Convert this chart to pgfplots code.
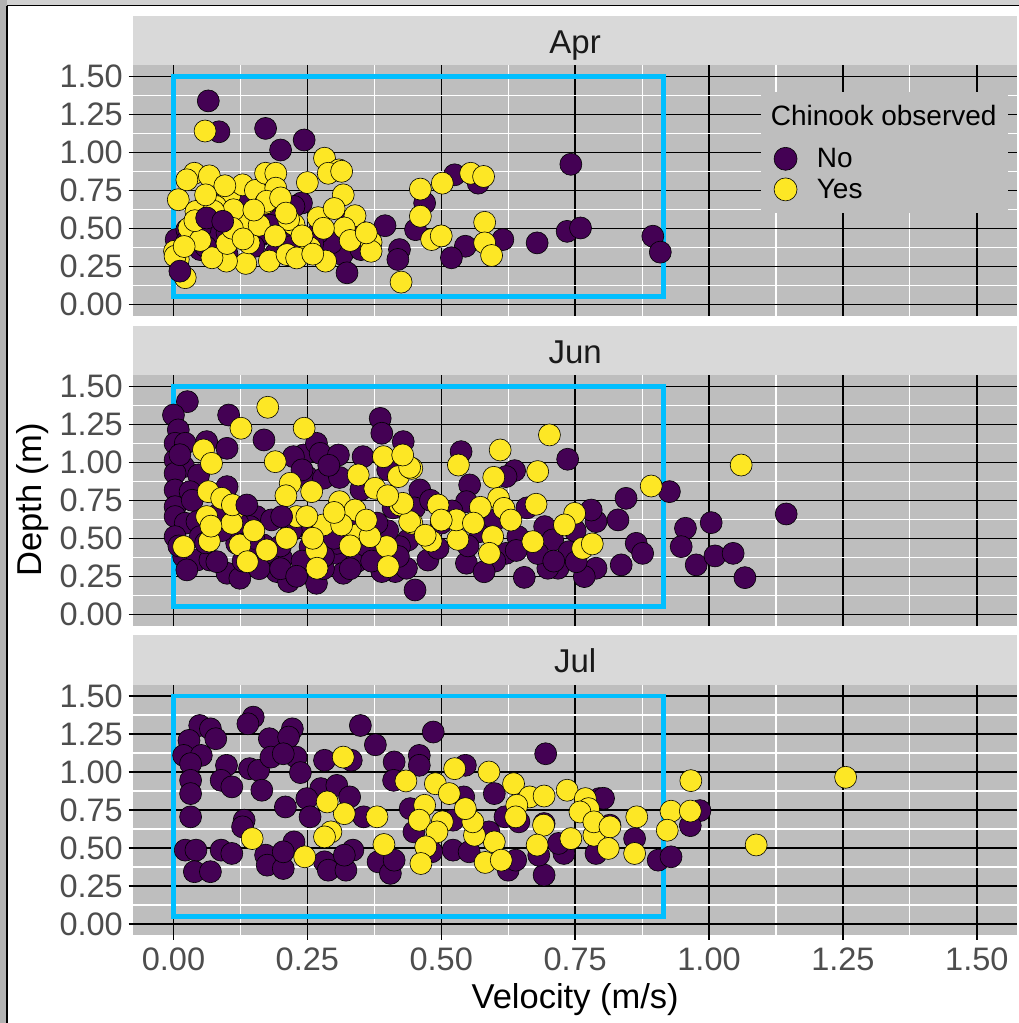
\documentclass[border=0pt]{standalone}
\usepackage{fontspec}
\setmainfont{Liberation Sans}
\usepackage{pgfplots}
\pgfplotsset{compat=1.18}
\definecolor{panelbg}{HTML}{BEBEBE}
\definecolor{stripbg}{HTML}{D9D9D9}
\definecolor{nocol}{HTML}{440154}
\definecolor{yescol}{HTML}{FDE725}
\definecolor{boxcol}{HTML}{00BFFF}
\definecolor{ticktxt}{HTML}{4D4D4D}
\definecolor{striptxt}{HTML}{1A1A1A}

\pgfplotsset{
  panel/.style={
    scale only axis, width=883.7pt, height=250.8pt,
    xmin=-0.075, xmax=1.575, ymin=-0.075, ymax=1.575,
    axis background/.style={fill=panelbg},
    axis line style={draw=none},
    xtick={0,0.25,...,1.5}, ytick={0,0.25,...,1.5},
    minor xtick={0.125,0.375,...,1.4}, minor ytick={0.125,0.375,...,1.4},
    grid=both,
    major grid style={black, line width=1.5pt},
    minor grid style={white, line width=1.2pt},
    tick align=outside, tick pos=left,
    major tick length=4.6pt, minor tick length=0pt,
    tick style={black, line width=1.4pt},
    ticklabel style={font=\fontsize{32.5}{32.5}\selectfont, text=ticktxt},
    yticklabel style={inner sep=0pt, xshift=-5.7pt},
    xticklabel style={inner sep=0pt, yshift=-8pt},
    yticklabel={\pgfmathprintnumber[fixed,fixed zerofill,precision=2,assume math mode=true]{\tick}},
    xticklabel={\pgfmathprintnumber[fixed,fixed zerofill,precision=2,assume math mode=true]{\tick}},
  },
  nopt/.style={only marks, mark=*, mark size=11pt, mark options={fill=nocol, draw=black, line width=0.6pt}},
  yespt/.style={only marks, mark=*, mark size=11pt, mark options={fill=yescol, draw=black, line width=0.6pt}},
  cyanbox/.style={boxcol, line width=4.5pt, line join=miter, mark=none, forget plot},
}

\begin{document}
\begin{tikzpicture}[x=1pt,y=1pt]
\useasboundingbox (0,0) rectangle (1019,1023);
\fill[white] (0,0) rectangle (1019,1023);
% screenshot frame
\fill[black!18] (0,1017.5) rectangle (1019,1023);
\fill[black!30] (0,0) rectangle (6.5,1023);
\draw[black, line width=1.6pt] (6.5,1017.3) -- (1019,1017.3);
\draw[black, line width=2pt] (7.3,0) -- (7.3,1017.3);

% strips
\fill[stripbg] (133.3,958.1) rectangle (1017,1007);
\fill[stripbg] (133.3,648.1) rectangle (1017,697);
\fill[stripbg] (133.3,338.4) rectangle (1017,387.5);
\node[anchor=base, text=striptxt, font=\fontsize{33}{33}\selectfont] at (575.1,969.7) {Apr};
\node[anchor=base, text=striptxt, font=\fontsize{33}{33}\selectfont] at (575.1,659.7) {Jun};
\node[anchor=base, text=striptxt, font=\fontsize{33}{33}\selectfont] at (575.1,350.2) {Jul};

% ---------- Apr ----------
\begin{axis}[panel, at={(133.3pt,707.3pt)}, anchor=south west,
  xmajorticks=false, xticklabels={},
  legend style={at={(0.7245,0.6734)}, anchor=north west, draw=none, fill=none,
    inner sep=0pt, row sep=7pt, font=\fontsize{28}{28}\selectfont,
    nodes={inner sep=0pt},
    /tikz/every odd column/.append style={column sep=19.5pt}},
  legend cell align=left]
\addplot[cyanbox] coordinates {(0.4575,0.05) (0.915,0.05) (0.915,1.5) (0,1.5) (0,0.05) (0.4575,0.05)};
\addplot[nopt, legend image code/.code={\filldraw[fill=nocol, draw=black, line width=0.6pt] (0pt,0pt) circle (11.5pt);}] coordinates {
(0.065,1.338) (0.085,1.135) (0.172,1.157) (0.2,1.015) (0.244,1.081) (0.742,0.921)
(0.525,0.852) (0.569,0.797) (0.469,0.666) (0.239,0.666) (0.139,0.72) (0.179,0.6)
(0.025,0.448) (0.079,0.458) (0.165,0.458) (0.212,0.415) (0.395,0.517) (0.452,0.491)
(0.499,0.448) (0.545,0.382) (0.615,0.426) (0.679,0.404) (0.735,0.48) (0.76,0.502)
(0.895,0.448) (0.909,0.343) (0.519,0.306) (0.422,0.36) (0.419,0.295) (0.315,0.328)
(0.324,0.207) (0.295,0.404) (0.005,0.426) (0.225,0.644) (0.025,0.491) (0.025,0.414)
(0.168,0.469) (0.211,0.491) (0.214,0.393) (0.05,0.36) (0.143,0.689) (0.342,0.5)
(0.1,0.33) (0.177,0.59) (0.12,0.5) (0.27,0.47) (0.06,0.38) (0.19,0.33) (0.35,0.36)
(0.05,0.5) (0.15,0.38) (0.1,0.47) (0.26,0.4) (0.33,0.55) (0.18,0.52) (0.22,0.38)
};
\addlegendentry{No}
\addplot[yespt, legend image code/.code={\filldraw[fill=yescol, draw=black, line width=0.6pt] (0pt,0pt) circle (11.5pt);}] coordinates {
(0.059,1.14) (0.282,0.961) (0.309,0.884) (0.289,0.862) (0.039,0.862) (0.025,0.819)
(0.067,0.845) (0.099,0.764) (0.105,0.72) (0.129,0.786) (0.153,0.749) (0.172,0.862)
(0.191,0.862) (0.191,0.764) (0.172,0.666) (0.25,0.801) (0.317,0.72) (0.009,0.688)
(0.461,0.758) (0.502,0.797) (0.555,0.862) (0.579,0.841) (0.461,0.579) (0.482,0.426)
(0.581,0.539) (0.581,0.404) (0.594,0.321) (0.339,0.583) (0.319,0.502) (0.369,0.408)
(0.369,0.349) (0.284,0.284) (0.255,0.371) (0.225,0.524) (0.215,0.557) (0.179,0.284)
(0.135,0.269) (0.099,0.284) (0.072,0.306) (0.141,0.404) (0.132,0.546) (0.029,0.502)
(0.042,0.611) (0.079,0.644) (0.002,0.349) (0.022,0.175) (0.425,0.146) (0.009,0.295)
(0.112,0.622) (0.212,0.327) (0.23,0.305) (0.096,0.78) (0.174,0.678) (0.075,0.612)
(0.314,0.875) (0.003,0.316) (0.16,0.52) (0.19,0.45) (0.05,0.42) (0.27,0.57) (0.1,0.4)
(0.04,0.55) (0.11,0.5) (0.15,0.62) (0.2,0.7) (0.24,0.45) (0.28,0.5) (0.3,0.63)
(0.06,0.72) (0.13,0.43) (0.21,0.6) (0.02,0.38) (0.33,0.42) (0.26,0.33) (0.36,0.47)
(0.5,0.45)
};
\addlegendentry{Yes}
\addplot[nopt, forget plot] coordinates {(0.012,0.218) (0.062,0.568) (0.092,0.546)};
\fill[panelbg] (axis description cs:0.7103,0.4095) rectangle (axis description cs:0.9898,0.8931);
\node[anchor=base west, inner sep=0pt, font=\fontsize{28}{28}\selectfont, text=black]
  at (axis description cs:0.7212,0.7564) {Chinook observed};
\end{axis}

% ---------- Jun ----------
\begin{axis}[panel, at={(133.3pt,397.3pt)}, anchor=south west,
  xmajorticks=false, xticklabels={}]
\addplot[cyanbox] coordinates {(0.4575,0.05) (0.915,0.05) (0.915,1.5) (0,1.5) (0,0.05) (0.4575,0.05)};
\addplot[nopt] coordinates {
(0.026,1.399) (0.0,1.311) (0.103,1.311) (0.169,1.147) (0.009,1.213) (0.003,1.125)
(0.022,1.125) (0.062,1.136) (0.1,1.092) (0.003,1.015) (0.019,0.971) (0.003,0.928)
(0.047,0.917) (0.003,0.818) (0.031,0.807) (0.1,0.84) (0.003,0.708) (0.003,0.643)
(0.022,0.599) (0.044,0.61) (0.003,0.511) (0.019,0.379) (0.044,0.357) (0.025,0.292)
(0.068,0.357) (0.1,0.27) (0.124,0.237) (0.155,0.643) (0.183,0.621)
(0.168,0.456) (0.202,0.368) (0.177,0.357) (0.193,0.281) (0.215,0.215) (0.243,1.048)
(0.267,1.125) (0.274,1.059) (0.308,1.048) (0.224,1.037) (0.249,0.906) (0.28,0.895)
(0.267,0.204) (0.305,0.401) (0.305,0.467) (0.342,0.346) (0.317,0.27) (0.386,1.289)
(0.389,1.191) (0.354,1.037) (0.429,1.136) (0.46,0.818) (0.438,0.489) (0.451,0.16)
(0.414,0.281) (0.389,0.281) (0.23,0.577) (0.255,0.445) (0.143,0.577) (0.155,0.401)
(0.081,0.346) (0.118,0.467) (0.05,0.511) (0.305,0.643)
(0.537,1.07) (0.736,1.02) (0.637,0.945) (0.621,0.906) (0.553,0.851) (0.547,0.741)
(0.845,0.763) (0.926,0.807) (0.83,0.621) (0.789,0.61) (0.78,0.686) (0.693,0.577)
(0.864,0.467) (0.876,0.401) (0.836,0.325) (0.789,0.303) (0.767,0.248) (0.718,0.303)
(0.699,0.303) (0.655,0.243) (0.708,0.489) (0.643,0.511) (0.621,0.401) (0.547,0.336)
(0.475,0.357) (0.435,0.303) (0.739,0.412) (0.752,0.346) (0.572,0.544) (0.494,0.434)
(0.422,0.445)
(0.956,0.566) (1.004,0.603) (0.948,0.445) (0.976,0.325) (1.011,0.384) (1.045,0.401)
(1.067,0.241) (1.144,0.66)
(0.012,1.05) (0.035,0.75) (0.01,0.45) (0.06,0.47) (0.09,0.55) (0.13,0.35) (0.2,0.45)
(0.24,0.35) (0.27,0.55) (0.33,0.6) (0.36,0.45) (0.4,0.55) (0.41,0.7) (0.35,0.82)
(0.31,0.9) (0.5,0.6) (0.52,0.68) (0.6,0.62) (0.66,0.7) (0.68,0.4)
(0.16,0.3) (0.2,0.3) (0.23,0.25) (0.28,0.3) (0.33,0.3) (0.37,0.35) (0.42,0.38)
(0.28,0.38) (0.22,0.55) (0.3,0.5) (0.38,0.6) (0.45,0.7) (0.48,0.75) (0.4,0.95)
(0.29,0.98) (0.24,0.95) (0.55,0.45) (0.6,0.35) (0.64,0.42) (0.58,0.28) (0.71,0.35)
(0.75,0.55) (0.12,0.6) (0.08,0.65) (0.15,0.5)
};
\addplot[yespt] coordinates {
(0.176,1.362) (0.126,1.224) (0.244,1.224) (0.056,1.081) (0.071,0.993) (0.19,1.004)
(0.218,0.862) (0.258,0.807) (0.065,0.807) (0.09,0.763) (0.115,0.697) (0.062,0.643)
(0.109,0.599) (0.019,0.445) (0.067,0.482) (0.124,0.456) (0.138,0.346) (0.174,0.423)
(0.23,0.643) (0.211,0.5) (0.28,0.588) (0.249,0.643) (0.267,0.423) (0.268,0.303)
(0.31,0.741) (0.345,0.917) (0.339,0.686) (0.342,0.522) (0.314,0.588) (0.376,0.829)
(0.392,1.037) (0.42,0.906) (0.445,0.96) (0.423,0.719) (0.445,0.599) (0.398,0.445)
(0.401,0.314) (0.367,0.511)
(0.702,1.18) (0.61,1.081) (0.532,0.982) (0.68,0.939) (0.598,0.901) (0.607,0.763)
(0.617,0.697) (0.573,0.704) (0.677,0.724) (0.892,0.844) (0.749,0.664) (0.73,0.588)
(0.764,0.434) (0.782,0.463) (0.671,0.478) (0.596,0.511) (0.59,0.401) (0.531,0.493)
(0.481,0.482) (0.528,0.621) (0.494,0.719) (0.441,0.61) (0.428,0.73) (0.441,0.967)
(0.428,1.048) (1.06,0.982)
(0.21,0.78) (0.3,0.67) (0.36,0.62) (0.4,0.78) (0.33,0.45) (0.26,0.5) (0.15,0.55)
(0.47,0.52) (0.5,0.62) (0.56,0.6) (0.63,0.62) (0.07,0.58) (0.11,0.72)
};
\addplot[nopt] coordinates {(0.137,0.719) (0.202,0.643)};
\end{axis}

% ---------- Jul ----------
\begin{axis}[panel, at={(133.3pt,87.6pt)}, anchor=south west]
\addplot[cyanbox] coordinates {(0.4575,0.05) (0.915,0.05) (0.915,1.5) (0,1.5) (0,0.05) (0.4575,0.05)};
\addplot[nopt] coordinates {
(0.049,1.306) (0.149,1.361) (0.139,1.317) (0.069,1.284) (0.079,1.219) (0.029,1.208)
(0.019,1.109) (0.052,1.109) (0.032,1.055) (0.032,0.945) (0.032,0.858) (0.099,1.044)
(0.089,0.945) (0.109,0.902) (0.142,1.022) (0.159,1.011) (0.165,0.88) (0.179,1.219)
(0.182,1.098) (0.222,1.284) (0.215,1.23) (0.229,1.098) (0.237,0.996) (0.205,1.12)
(0.032,0.705) (0.132,0.683) (0.129,0.639) (0.022,0.486) (0.042,0.486) (0.039,0.344)
(0.069,0.344) (0.089,0.486) (0.109,0.464) (0.172,0.453) (0.175,0.387) (0.205,0.365)
(0.225,0.54) (0.205,0.475) (0.282,1.077) (0.332,1.077) (0.349,1.306) (0.377,1.179)
(0.412,1.066) (0.411,0.945) (0.459,1.109) (0.459,1.044) (0.485,1.263) (0.545,1.044)
(0.695,1.12) (0.599,0.858) (0.795,0.825) (0.275,0.891) (0.305,0.912) (0.329,0.836)
(0.249,0.825) (0.209,0.77) (0.255,0.705) (0.355,0.705) (0.282,0.409) (0.289,0.354)
(0.322,0.354) (0.335,0.486) (0.319,0.453) (0.382,0.409) (0.405,0.333) (0.412,0.42)
(0.442,0.759) (0.449,0.606) (0.482,0.475) (0.522,0.486) (0.542,0.836) (0.522,0.683)
(0.552,0.475) (0.625,0.354) (0.639,0.42) (0.645,0.672) (0.619,0.705) (0.692,0.322)
(0.692,0.661) (0.682,0.453) (0.729,0.464) (0.719,0.53) (0.789,0.464) (0.815,0.65)
(0.861,0.562) (0.905,0.42) (0.929,0.442) (0.589,0.606) (0.983,0.746) (0.965,0.647)
(0.803,0.827)
};
\addplot[yespt] coordinates {
(0.317,1.098) (0.525,1.022) (0.589,1.0) (0.635,0.923) (0.665,0.836) (0.692,0.842)
(0.735,0.88) (0.769,0.825) (0.775,0.759) (0.759,0.737) (0.641,0.781) (0.639,0.705)
(0.691,0.65) (0.742,0.562) (0.785,0.584) (0.785,0.672) (0.815,0.639) (0.812,0.497)
(0.861,0.464) (0.865,0.705) (0.929,0.742) (0.922,0.617) (0.966,0.943) (0.679,0.519)
(0.599,0.54) (0.562,0.584) (0.559,0.672) (0.545,0.759) (0.582,0.405) (0.612,0.42)
(0.489,0.923) (0.515,0.858) (0.469,0.781) (0.459,0.683) (0.502,0.672) (0.492,0.606)
(0.471,0.508) (0.462,0.398) (0.434,0.941) (0.393,0.523) (0.38,0.705) (0.319,0.726)
(0.287,0.803) (0.294,0.606) (0.282,0.573) (0.245,0.442) (0.147,0.562) (0.965,0.743)
(1.088,0.52) (1.255,0.965)
};
\end{axis}

% axis titles
\node[anchor=base, font=\fontsize{34.5}{34.5}\selectfont] at (575.2,14.4) {Velocity (m/s)};
\node[rotate=90, anchor=center, font=\fontsize{34.5}{34.5}\selectfont] at (33,523) {Depth (m)};
\end{tikzpicture}
\end{document}
